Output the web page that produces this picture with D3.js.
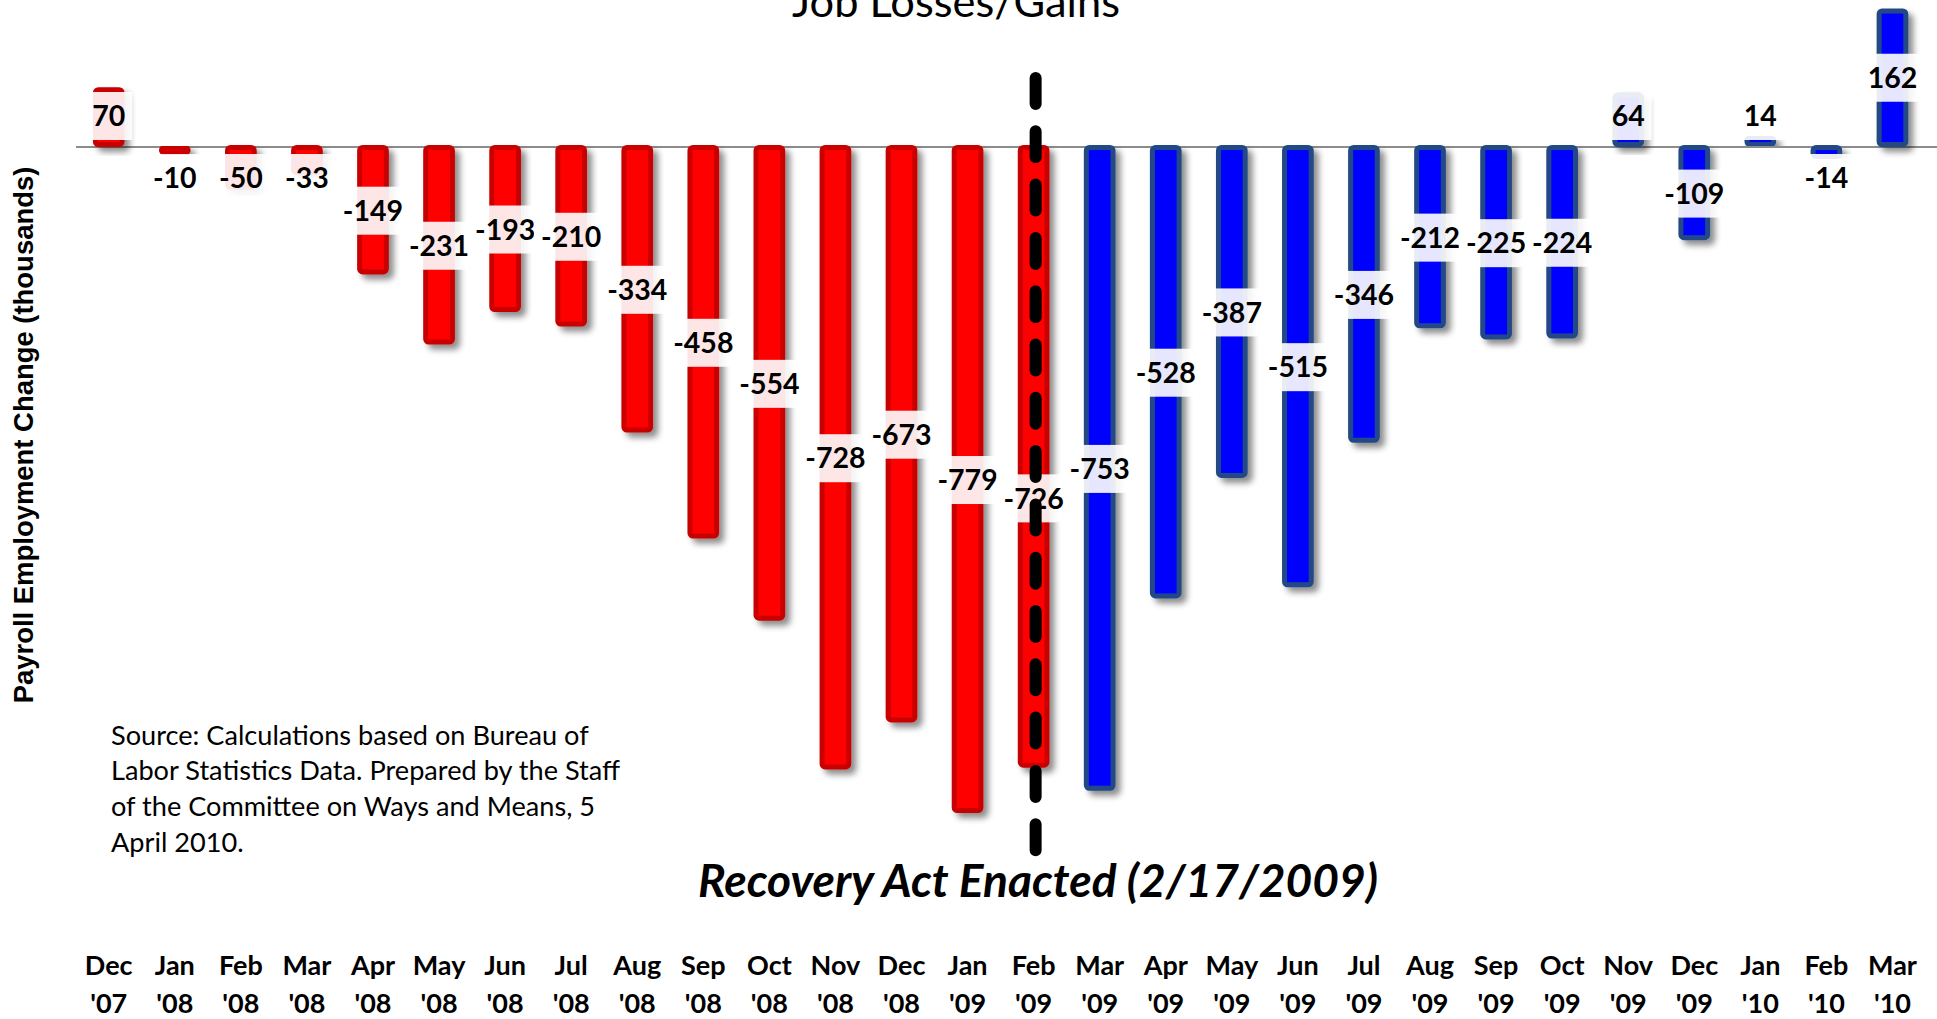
<!DOCTYPE html>
<html>
<head>
<meta charset="utf-8">
<script src="https://cdn.jsdelivr.net/npm/d3@7"></script>
<style>
  html, body { margin: 0; padding: 0; background: #ffffff; overflow: hidden; }
  svg { display: block; }
</style>
</head>
<body>
<svg id="chart" width="1937" height="1019"></svg>
<script>
// ---- data ----
const monthLabels = ["Dec","Jan","Feb","Mar","Apr","May","Jun","Jul","Aug","Sep","Oct","Nov","Dec",
                     "Jan","Feb","Mar","Apr","May","Jun","Jul","Aug","Sep","Oct","Nov","Dec",
                     "Jan","Feb","Mar"];
const yearLabels = ["'07","'08","'08","'08","'08","'08","'08","'08","'08","'08","'08","'08","'08",
                    "'09","'09","'09","'09","'09","'09","'09","'09","'09","'09","'09","'09",
                    "'10","'10","'10"];
const jobChange = [70, -10, -50, -33, -149, -231, -193, -210, -334, -458, -554, -728, -673,
                   -779, -726, -753, -528, -387, -515, -346, -212, -225, -224, 64, -109,
                   14, -14, 162];
const enactedMonth = "Feb '09";
const titleText = "Job Losses/Gains";
const yAxisTitle = "Payroll Employment Change (thousands)";
const annotationText = "Recovery Act Enacted (2/17/2009)";
const sourceLines = ["Source: Calculations based on Bureau of",
                     "Labor Statistics Data. Prepared by the Staff",
                     "of the Committee on Ways and Means, 5",
                     "April 2010."];

const categories = monthLabels.map((m, i) => m + " " + yearLabels[i]);
const data = categories.map((c, i) => ({ cat: c, month: monthLabels[i], year: yearLabels[i], value: jobChange[i] }));
const enactedIndex = categories.indexOf(enactedMonth);

// ---- layout ----
const svg = d3.select("#chart");
const FONT = "Lato, 'Open Sans', sans-serif";

const x = d3.scaleBand().domain(categories).range([75.7, 1925.5]).paddingInner(0.52).paddingOuter(0.26);
const y = d3.scaleLinear().domain([-800, 160]).range([831, 10.2]);
const y0 = y(0);
const bw = x.bandwidth();

// filter for bar shadow
const defs = svg.append("defs");
const f = defs.append("filter").attr("id", "shadow").attr("x", "-50%").attr("y", "-20%").attr("width", "200%").attr("height", "140%");
f.append("feDropShadow").attr("dx", 5).attr("dy", 5).attr("stdDeviation", 3)
  .attr("flood-color", "#000").attr("flood-opacity", 0.45);

function fitText(sel, target) {
  const fs = parseFloat(sel.attr("font-size"));
  const len = sel.node().getComputedTextLength();
  if (len > 0) sel.attr("font-size", fs * target / len);
  return sel;
}

// title
const title = svg.append("text")
  .attr("x", 956).attr("y", 17).attr("text-anchor", "middle")
  .attr("font-family", FONT).attr("font-size", 38).attr("fill", "#000")
  .text(titleText);
fitText(title, 328);

// zero line
svg.append("line")
  .attr("x1", 76).attr("x2", 1937).attr("y1", y0).attr("y2", y0)
  .attr("stroke", "#8c8c8c").attr("stroke-width", 2);

// bars
const sw = 5;
const isRed = (d, i) => i <= enactedIndex;
svg.append("g").selectAll("rect").data(data).join("rect")
  .attr("x", d => x(d.cat) + sw / 2)
  .attr("width", bw - sw)
  .attr("y", d => Math.min(y(d.value), y0) + sw / 2 - (d.value < 0 ? 2 : 0))
  .attr("height", d => Math.max(0.5, Math.abs(y(d.value) - y0) - sw + (d.value < 0 ? 2 : 0)))
  .attr("rx", 3).attr("ry", 3)
  .attr("fill", (d, i) => isRed(d, i) ? "#ff0000" : "#0000ff")
  .attr("stroke", (d, i) => isRed(d, i) ? "#c80000" : "#244a85")
  .attr("stroke-width", sw)
  .attr("filter", "url(#shadow)");

// data labels
const minOffset = 31;
const labelShift = { [enactedMonth]: 41 };
const lg = svg.append("g");
data.forEach((d, i) => {
  const half = Math.abs(y(d.value) - y0) / 2;
  const off = Math.max(half, minOffset);
  let cy = d.value >= 0 ? y0 - off : y0 + off;
  cy += (labelShift[d.cat] || 0);
  const cx = x(d.cat) + bw / 2;
  const g = lg.append("g");
  const rect = g.append("rect");
  const t = g.append("text")
    .attr("x", cx).attr("y", cy).attr("dy", "0.36em")
    .attr("text-anchor", "middle")
    .attr("font-family", FONT).attr("font-weight", 700).attr("font-size", 28.5)
    .attr("fill", "#000")
    .text(String(d.value));
  const w = t.node().getComputedTextLength();
  rect.attr("x", cx - w / 2 - 7).attr("width", w + 14)
    .attr("y", cy - 24).attr("height", 48)
    .attr("fill", "#ffffff").attr("fill-opacity", 0.9);
});

// dashed recovery act line
const lx = x(enactedMonth) + bw / 2 + 2;
svg.append("line")
  .attr("x1", lx).attr("x2", lx).attr("y1", 78).attr("y2", 851)
  .attr("stroke", "#000").attr("stroke-width", 12)
  .attr("stroke-linecap", "round").attr("stroke-dasharray", "26,27.3");

// annotation
const ann = svg.append("text")
  .attr("x", 1038).attr("y", 897).attr("text-anchor", "middle")
  .attr("font-family", FONT).attr("font-weight", 700).attr("font-style", "italic")
  .attr("font-size", 40).attr("fill", "#000")
  .text(annotationText);
fitText(ann, 680);

// source text
const src = svg.append("g");
const srcBase = [745, 780, 816, 852];
let srcFs = 24;
sourceLines.forEach((line, i) => {
  src.append("text").attr("x", 111).attr("y", srcBase[i])
    .attr("font-family", FONT).attr("font-size", srcFs).attr("fill", "#000").text(line);
});
{
  const first = src.select("text");
  const len = first.node().getComputedTextLength();
  const nfs = srcFs * 478 / len;
  src.selectAll("text").attr("font-size", nfs);
}

// y axis title
const yt = svg.append("text")
  .attr("transform", "translate(33,435) rotate(-90)")
  .attr("text-anchor", "middle")
  .attr("font-family", "'Liberation Sans', Arial, sans-serif").attr("font-weight", 700)
  .attr("font-size", 24).attr("fill", "#000")
  .text(yAxisTitle);
fitText(yt, 537);

// x axis (two-line tick labels)
const xAxis = d3.axisBottom(x).tickSize(0).tickFormat(() => "");
const axg = svg.append("g").attr("transform", "translate(0,940)").call(xAxis);
axg.select(".domain").remove();
axg.selectAll(".tick").each(function(c, i) {
  const tk = d3.select(this);
  tk.select("text").remove();
  const d = data[i];
  tk.append("text").attr("y", 35).attr("text-anchor", "middle")
    .attr("font-family", FONT).attr("font-weight", 700).attr("font-size", 27).attr("fill", "#000")
    .text(d.month);
  tk.append("text").attr("y", 73).attr("text-anchor", "middle")
    .attr("font-family", FONT).attr("font-weight", 700).attr("font-size", 27).attr("fill", "#000")
    .text(d.year);
});
</script>
</body>
</html>
